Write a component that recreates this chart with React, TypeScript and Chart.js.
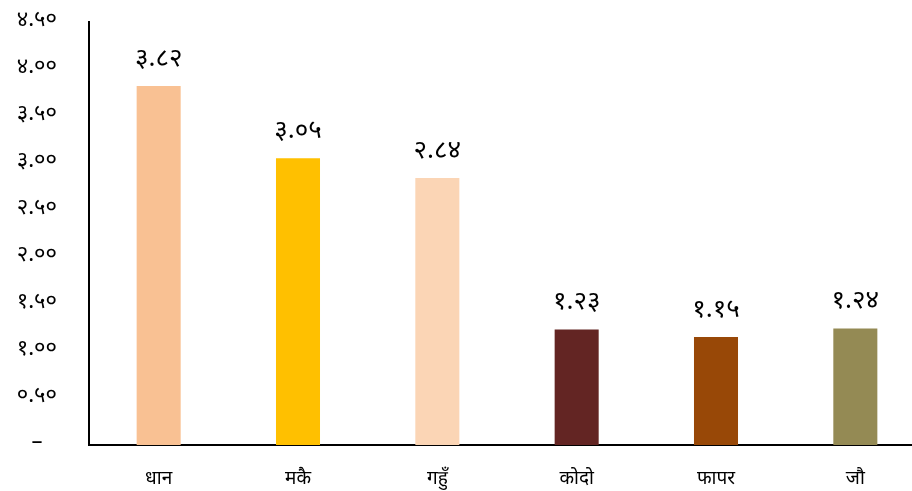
import React, { useEffect, useRef } from "react";
import { Chart, registerables } from "chart.js";

Chart.register(...registerables);

const categories = ["धान", "मकै", "गहुँ", "कोदो", "फापर", "जौ"];
const values = [3.82, 3.05, 2.84, 1.23, 1.15, 1.24];
const barColors = ["#F9C193", "#FFC000", "#FBD5B5", "#632523", "#984807", "#948A54"];
const yMax = 4.5;
const yStep = 0.5;

const devDigits = ["०", "१", "२", "३", "४", "५", "६", "७", "८", "९"];
const toDev = (s: string) => s.replace(/[0-9]/g, (d) => devDigits[Number(d)]);

const FONT = "'Noto Sans Devanagari', 'Noto Sans', 'DejaVu Sans', sans-serif";

export default function App() {
  const ref = useRef<HTMLCanvasElement>(null);
  useEffect(() => {
    if (!ref.current) return;
    const labelPlugin = {
      id: "valueLabels",
      afterDatasetsDraw(chart: any) {
        const ctx = chart.ctx;
        const meta = chart.getDatasetMeta(0);
        ctx.save();
        ctx.fillStyle = "#000";
        ctx.font = `26px ${FONT}`;
        ctx.textAlign = "center";
        ctx.textBaseline = "alphabetic";
        meta.data.forEach((bar: any, i: number) => {
          ctx.fillText(toDev(values[i].toFixed(2)), bar.x, bar.y - 20);
        });
        ctx.restore();
      },
    };
    const chart = new Chart(ref.current, {
      type: "bar",
      data: {
        labels: categories,
        datasets: [
          {
            data: values,
            backgroundColor: barColors,
            categoryPercentage: 1,
            barPercentage: 0.316,
          },
        ],
      },
      options: {
        responsive: false,
        animation: false,
        layout: { padding: { top: 22, right: 5, left: 0, bottom: 0 } },
        plugins: { legend: { display: false }, tooltip: { enabled: false } },
        scales: {
          x: {
            grid: { display: false, drawTicks: false },
            border: { display: true, color: "#000", width: 2 },
            ticks: {
              color: "#000",
              font: { family: FONT, size: 19 },
              padding: 24,
            },
            afterFit: (s: any) => {
              s.height = 46;
            },
          },
          y: {
            min: 0,
            max: yMax,
            grid: { display: false, drawTicks: false },
            border: { display: true, color: "#000", width: 2 },
            ticks: {
              stepSize: yStep,
              color: "#000",
              font: { family: FONT, size: 22 },
              padding: 32,
              crossAlign: "center",
              callback: (v: any) => (Number(v) === 0 ? "–" : toDev(Number(v).toFixed(2))),
            },
            afterFit: (s: any) => {
              s.width = 89;
              s.paddingTop = 0;
              s.paddingBottom = 0;
            },
          },
        },
      },
      plugins: [labelPlugin],
    });
    return () => chart.destroy();
  }, []);
  return (
    <div style={{ position: "absolute", left: 0, top: 0, width: 912, height: 491, overflow: "hidden", background: "#fff" }}>
      <canvas ref={ref} width={930} height={491} style={{ width: 930, height: 491 }} />
    </div>
  );
}
